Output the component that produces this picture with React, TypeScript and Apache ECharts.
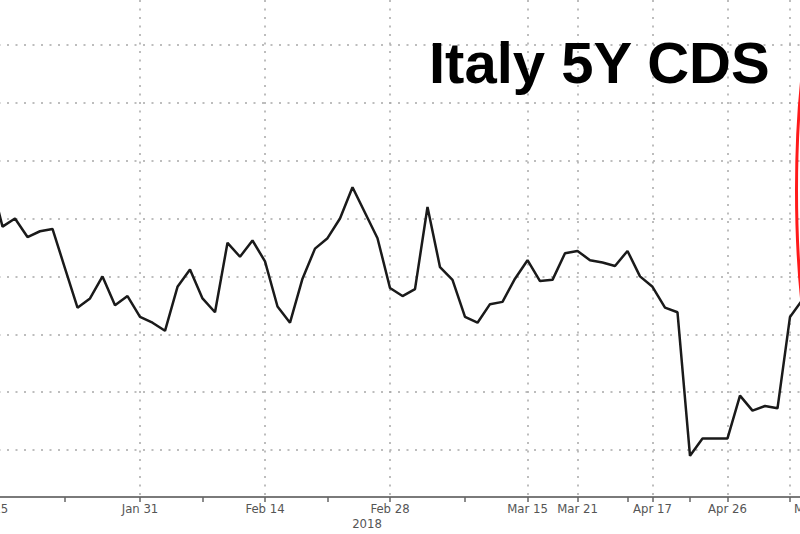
import React, { useEffect, useRef } from "react";
import * as echarts from "echarts";

// Trading-day categories (Jan 15 -> early May 2018)
const dates: string[] = [
  "Jan 15", "Jan 16", "Jan 17", "Jan 18", "Jan 19", "Jan 22", "Jan 23", "Jan 24", "Jan 25", "Jan 26",
  "Jan 29", "Jan 30", "Jan 31", "Feb 1", "Feb 2", "Feb 5", "Feb 6", "Feb 7", "Feb 8", "Feb 9",
  "Feb 12", "Feb 13", "Feb 14", "Feb 15", "Feb 16", "Feb 19", "Feb 20", "Feb 21", "Feb 22", "Feb 23",
  "Feb 26", "Feb 27", "Feb 28", "Mar 1", "Mar 2", "Mar 5", "Mar 6", "Mar 7", "Mar 8", "Mar 9",
  "Mar 12", "Mar 13", "Mar 14", "Mar 15", "Mar 16", "Mar 19", "Mar 20", "Mar 21", "Mar 22", "Mar 23",
  "Apr 12", "Apr 13", "Apr 16", "Apr 17", "Apr 18", "Apr 19", "Apr 20", "Apr 23", "Apr 25", "Apr 26",
  "Apr 27", "Apr 30", "May 2", "May 3", "May 4", "May 7",
];

// Italy 5Y CDS (bp)
const cdsValues: number[] = [
  108.6, 104.3, 105.0, 103.4, 103.9, 104.1, 100.7, 97.3, 98.1, 100.0,
  97.5, 98.3, 96.5, 96.0, 95.3, 99.1, 100.6, 98.1, 96.9, 102.9,
  101.7, 103.1, 101.3, 97.4, 96.0, 99.8, 102.4, 103.3, 105.0, 107.7,
  105.5, 103.3, 99.0, 98.3, 98.9, 106.0, 100.8, 99.7, 96.5, 96.0,
  97.6, 97.8, 99.8, 101.4, 99.6, 99.7, 102.0, 102.2, 101.4, 101.2,
  100.9, 102.2, 100.0, 99.1, 97.3, 96.9, 84.5, 86.0, 86.0, 86.0,
  89.7, 88.4, 88.8, 88.6, 96.5, 98.0,
];

// Horizontal grid levels (labels not visible in the cropped picture)
const yGridLevels: number[] = [85, 90, 95, 100, 105, 110, 115, 120];

// Category indices carrying a date label / gridline, and extra minor ticks
const labelIndices: number[] = [0, 12, 22, 32, 43, 47, 53, 59, 64];
const minorTickIndices: number[] = [6, 17, 27, 38, 51, 56];

const titleText = "Italy 5Y CDS";
const yearText = "2018";

export default function App() {
  const ref = useRef<HTMLDivElement>(null);

  useEffect(() => {
    if (!ref.current) return;
    const chart = echarts.init(ref.current, null, { renderer: "svg" });
    const labelSet = new Set(labelIndices);
    const tickSet = new Set([...labelIndices, ...minorTickIndices]);
    const dotted = { color: "#a8a8a8", width: 1.5, type: [2, 6.5] as number[] };

    chart.setOption({
      animation: false,
      backgroundColor: "#ffffff",
      grid: {
        left: -10,
        right: -2.5,
        top: 0,
        bottom: 37,
        containLabel: false,
        outerBoundsMode: "none",
      },
      xAxis: {
        type: "category",
        boundaryGap: false,
        data: dates.map((d, i) =>
          i === 64 ? { value: d, textStyle: { align: "left", padding: [0, 0, 0, 4] } } : d
        ),
        axisLine: { lineStyle: { color: "#7a7a7a", width: 2 } },
        axisTick: {
          show: true,
          interval: (i: number) => tickSet.has(i),
          length: 5,
          lineStyle: { color: "#666666", width: 1.5 },
        },
        axisLabel: {
          interval: (i: number) => labelSet.has(i),
          color: "#555555",
          fontSize: 13,
          fontFamily: "'DejaVu Sans Condensed', 'DejaVu Sans', sans-serif",
          margin: 5,
        },
        splitLine: {
          show: true,
          interval: (i: number) => labelSet.has(i),
          lineStyle: dotted,
        },
      },
      yAxis: {
        type: "value",
        min: 80.94,
        max: 123.88,
        axisLine: { show: false },
        axisTick: { show: false },
        axisLabel: { show: false },
        splitLine: { show: false },
      },
      series: [
        {
          type: "line",
          data: cdsValues,
          symbol: "none",
          silent: true,
          z: 3,
          lineStyle: { color: "#1a1a1a", width: 2.5 },
          markLine: {
            silent: true,
            z: 1,
            symbol: "none",
            label: { show: false },
            emphasis: { disabled: true },
            lineStyle: dotted,
            data: yGridLevels.map((v) => ({ yAxis: v })),
          },
        },
      ],
      graphic: [
        {
          type: "text",
          left: 429,
          top: 33,
          style: {
            text: titleText,
            fill: "#000000",
            font: "bold 58px 'Liberation Sans', Arial, sans-serif",
          },
          z: 10,
        },
        {
          type: "text",
          x: 367,
          y: 523,
          style: {
            text: yearText,
            fill: "#555555",
            font: "13px 'DejaVu Sans Condensed', 'DejaVu Sans', sans-serif",
            align: "center",
            verticalAlign: "middle",
          },
        },
        {
          type: "ellipse",
          shape: { cx: 866.5, cy: 190, rx: 70, ry: 285 },
          style: { fill: "none", stroke: "#ff1a1a", lineWidth: 3 },
          z: 10,
        },
      ],
    });

    return () => chart.dispose();
  }, []);

  return (
    <div
      ref={ref}
      style={{ position: "fixed", left: 0, top: 0, width: 800, height: 534 }}
    />
  );
}
